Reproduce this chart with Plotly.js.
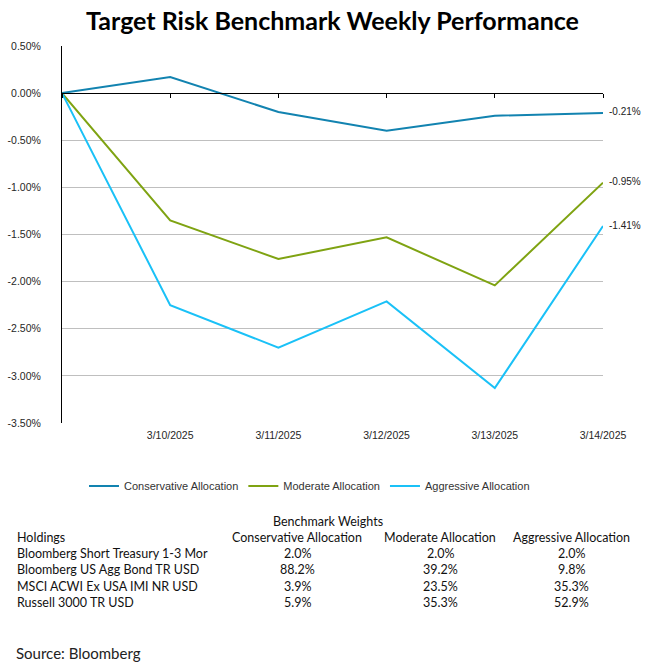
<!DOCTYPE html>
<html>
<head>
<meta charset="utf-8">
<script src="https://cdn.plot.ly/plotly-3.0.1.min.js"></script>
<style>html,body{margin:0;padding:0;background:#fff;}#chart{width:657px;height:671px;}</style>
</head>
<body>
<div id="chart"></div>
<script>
// ---- data ----
const dates = ['3/7/2025', '3/10/2025', '3/11/2025', '3/12/2025', '3/13/2025', '3/14/2025'];
const dateLabels = ['', '3/10/2025', '3/11/2025', '3/12/2025', '3/13/2025', '3/14/2025'];
const conservative = [0, 0.17, -0.20, -0.40, -0.24, -0.21];
const moderate = [0, -1.35, -1.76, -1.53, -2.04, -0.95];
const aggressive = [0, -2.25, -2.70, -2.21, -3.13, -1.41];
const seriesNames = ['Conservative Allocation', 'Moderate Allocation', 'Aggressive Allocation'];
const yTicks = [0.5, 0, -0.5, -1, -1.5, -2, -2.5, -3, -3.5];

const tableTitle = 'Benchmark Weights';
const tableHeader = ['Holdings', 'Conservative Allocation', 'Moderate Allocation', 'Aggressive Allocation'];
const holdings = ['Bloomberg Short Treasury 1-3 Mor', 'Bloomberg US Agg Bond TR USD', 'MSCI ACWI Ex USA IMI NR USD', 'Russell 3000 TR USD'];
const wConservative = ['2.0%', '88.2%', '3.9%', '5.9%'];
const wModerate = ['2.0%', '39.2%', '23.5%', '35.3%'];
const wAggressive = ['2.0%', '9.8%', '35.3%', '52.9%'];
const sourceText = 'Source: Bloomberg';

// ---- layout helpers ----
const W = 657, H = 671;
const M = {l: 62, r: 54, t: 46, b: 248};
const plotW = W - M.l - M.r, plotH = H - M.t - M.b;
const px2x = px => (px - M.l) / plotW;
const px2y = py => (H - M.b - py) / plotH;

const colors = ['#1283B0', '#7FA312', '#1AC1F7'];
const yMin = -3.5, yMax = 0.5;
const axisFont = {family: 'Liberation Sans, Arial, sans-serif', size: 10.5, color: '#262626'};

const seriesData = [conservative, moderate, aggressive];
const traces = seriesData.map((vals, i) => ({
  type: 'scatter', mode: 'lines', x: dates, y: vals, name: seriesNames[i],
  line: {color: colors[i], width: 2}, hoverinfo: 'skip'
}));
// dummy trace to carry the zero-crossing axis
traces.push({type: 'scatter', mode: 'lines', x: dates, y: dates.map(() => null), xaxis: 'x2', showlegend: false, hoverinfo: 'skip'});

const annotations = [];
// end labels
seriesData.forEach((vals, i) => {
  const last = vals[vals.length - 1];
  annotations.push({x: dates[dates.length - 1], y: last, xref: 'x', yref: 'y', text: last.toFixed(2) + '%',
    showarrow: false, xanchor: 'left', xshift: 4, yshift: 1, font: {family: 'Liberation Sans, Arial, sans-serif', size: 10, color: '#222'}});
});

// table
const tFont = {family: 'Lato, Carlito, sans-serif', size: 12.5, color: '#111'};
const colCenters = [297, 440, 571];
annotations.push({x: px2x(328), y: px2y(521), xref: 'paper', yref: 'paper', text: tableTitle, showarrow: false, xanchor: 'center', yanchor: 'middle', font: tFont});
annotations.push({x: px2x(15), y: px2y(537), xref: 'paper', yref: 'paper', text: tableHeader[0], showarrow: false, xanchor: 'left', yanchor: 'middle', font: tFont});
for (let c = 0; c < 3; c++) {
  annotations.push({x: px2x(colCenters[c]), y: px2y(537), xref: 'paper', yref: 'paper', text: tableHeader[c + 1], showarrow: false, xanchor: 'center', yanchor: 'middle', font: tFont});
}
const cols = [wConservative, wModerate, wAggressive];
const rowY = [553, 569, 586, 602];
holdings.forEach((h, r) => {
  annotations.push({x: px2x(15), y: px2y(rowY[r]), xref: 'paper', yref: 'paper', text: h, showarrow: false, xanchor: 'left', yanchor: 'middle', font: tFont});
  for (let c = 0; c < 3; c++) {
    annotations.push({x: px2x(colCenters[c]), y: px2y(rowY[r]), xref: 'paper', yref: 'paper', text: cols[c][r], showarrow: false, xanchor: 'center', yanchor: 'middle', font: tFont});
  }
});
annotations.push({x: px2x(14), y: px2y(653), xref: 'paper', yref: 'paper', text: sourceText, showarrow: false, xanchor: 'left', yanchor: 'middle', font: {family: 'Lato, sans-serif', size: 15, color: '#222'}});

const layout = {
  width: W, height: H,
  margin: M,
  paper_bgcolor: '#fff', plot_bgcolor: '#fff',
  title: {text: 'Target Risk Benchmark Weekly Performance', x: 0.5, xref: 'paper', xanchor: 'center', y: 1 - 21 / H, yanchor: 'middle',
    font: {family: 'Lato, sans-serif', size: 25, weight: 700, color: '#000'}},
  showlegend: true,
  legend: {orientation: 'h', x: px2x(84), xanchor: 'left', y: px2y(486), yanchor: 'middle',
    font: {family: 'Liberation Sans, Arial, sans-serif', size: 11, color: '#333'}, bgcolor: 'rgba(0,0,0,0)', itemwidth: 30},
  xaxis: {type: 'category', categoryorder: 'array', categoryarray: dates, range: [0, dates.length - 1],
    tickmode: 'array', tickvals: dates, ticktext: dateLabels, ticks: '', showline: false, showgrid: false, zeroline: false,
    tickfont: axisFont, ticklabelstandoff: 4, fixedrange: true},
  xaxis2: {type: 'category', overlaying: 'x', matches: 'x', anchor: 'free', position: (0 - yMin) / (yMax - yMin),
    categoryorder: 'array', categoryarray: dates, range: [0, dates.length - 1],
    showline: true, linecolor: '#000', linewidth: 1, ticks: 'outside', ticklen: 4, tickcolor: '#000', tickwidth: 1,
    showticklabels: false, showgrid: false, zeroline: false},
  yaxis: {range: [yMin, yMax], tickmode: 'array', tickvals: yTicks, ticktext: yTicks.map(v => v.toFixed(2) + '%'),
    showgrid: true, gridcolor: '#BFBFBF', gridwidth: 1, zeroline: false, showline: true, linecolor: '#000', linewidth: 1,
    ticks: '', tickfont: axisFont, ticklabelstandoff: 18, fixedrange: true},
  annotations: annotations
};

Plotly.newPlot('chart', traces, layout, {displayModeBar: false, staticPlot: true});
</script>
</body>
</html>
